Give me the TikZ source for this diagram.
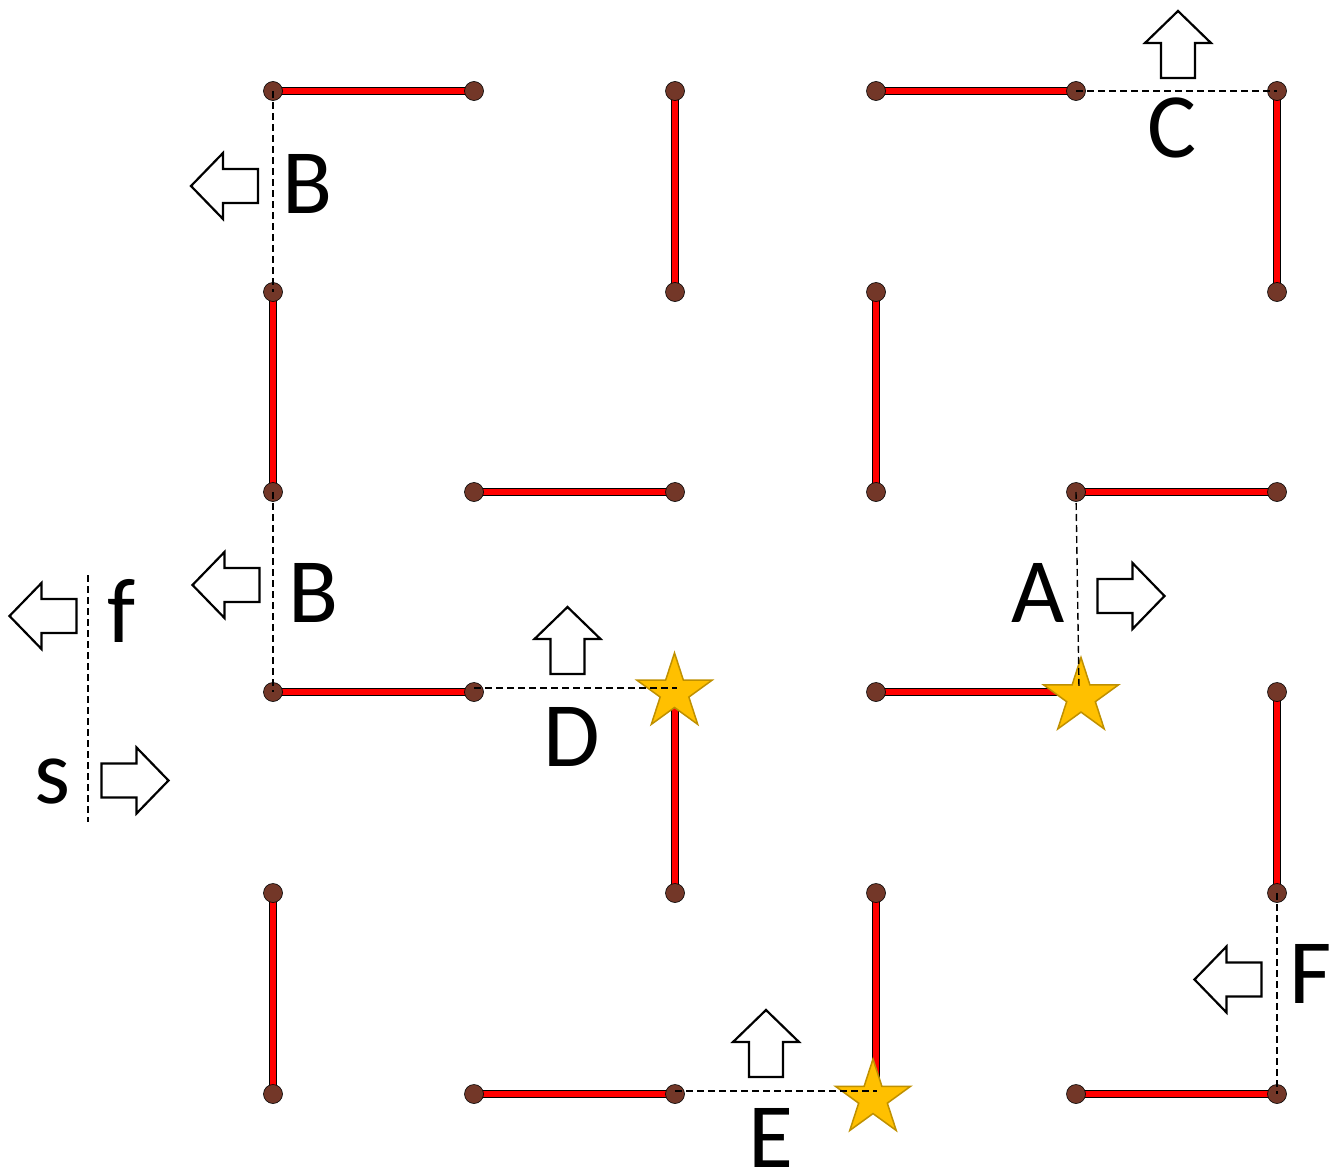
\documentclass[tikz,border=0pt]{standalone}
\usepackage{fontspec}
\setmainfont{Carlito}
\usetikzlibrary{shapes.geometric}
\definecolor{dotbrown}{HTML}{733728}
\definecolor{staryel}{HTML}{FFC000}
\definecolor{starborder}{HTML}{BF9000}
\begin{document}
\begin{tikzpicture}[x=1pt,y=1pt,
  wall/.style={line width=1.2pt, double=red, double distance=5.5pt},
  dotnode/.style={circle, fill=dotbrown, draw=black, line width=0.6pt, minimum size=19pt, inner sep=0pt},
  gate/.style={dash pattern=on 7pt off 4pt, line width=1.4pt, black},
  starnode/.style={star, star points=5, star point ratio=2.618, minimum size=79pt, inner sep=0pt, fill=staryel, draw=starborder, line width=1.5pt},
  lbl/.style={font=\fontsize{92}{92}\selectfont, inner sep=0pt, anchor=base},
  pics/barrow/.style={code={\draw[line width=2.2pt, fill=white, line join=miter] (-33.5,-17) -- (1.5,-17) -- (1.5,-33) -- (33.5,0) -- (1.5,33) -- (1.5,17) -- (-33.5,17) -- cycle;}}
]
\useasboundingbox (0,0) rectangle (1334,-1172);
\foreach \i/\x in {0/273,1/474,2/675,3/876,4/1076,5/1277}
  \foreach \j/\y in {0/91,1/292,2/492,3/692,4/893,5/1094}
    \coordinate (g\i\j) at (\x,-\y);
% stars (positions)
\coordinate (dD) at (677,-688);
\coordinate (dA) at (1079,-688);
\coordinate (dE) at (877,-1091);
% walls
\draw[wall] (g00) -- (g10);
\draw[wall] (g20) -- (g21);
\draw[wall] (g30) -- (g40);
\draw[wall] (g50) -- (g51);
\draw[wall] (g01) -- (g02);
\draw[wall] (g31) -- (g32);
\draw[wall] (g12) -- (g22);
\draw[wall] (g42) -- (g52);
\draw[wall] (g03) -- (g13);
\draw[wall] (g23) -- (g24);
\draw[wall] (g33) -- (g43);
\draw[wall] (g53) -- (g54);
\draw[wall] (g04) -- (g05);
\draw[wall] (g34) -- (g35);
\draw[wall] (g15) -- (g25);
\draw[wall] (g45) -- (g55);
% dots
\foreach \n in {g00,g10,g20,g21,g30,g40,g50,g51,g01,g02,g31,g32,g12,g22,g42,g52,g03,g13,g24,g33,g53,g54,g04,g05,g34,g15,g25,g45,g55}
  \node[dotnode] (d\n) at (\n) {};
% stars
\node[starnode] (sD) at (674.5,-692.4) {};
\node[starnode] (sA) at (1081,-697) {};
\node[starnode] (sE) at (873,-1098.5) {};
% gates
\draw[gate] (g00) -- (g01);
\draw[gate] (g02) -- (g03);
\draw[gate] (g40) -- (g50);
\draw[gate] (g13 |- dD) -- (dD);
\draw[gate] (g42) -- (dA);
\draw[gate] (g25 |- dE) -- (dE);
\draw[gate] (g54) -- (g55);
\coordinate (fsTop) at (88,-575);
\coordinate (fsBot) at (88,-822);
\draw[gate] (fsTop) -- (fsBot);
% labels
\node[lbl] (lB1) at (308,-213) {B};
\node[lbl] (lB2) at (314,-622) {B};
\node[lbl] (lC) at (1172,-157) {C};
\node[lbl] (lD) at (572,-766) {D};
\node[lbl] (lA) at (1038,-622) {A};
\node[lbl] (lE) at (771,-1167) {E};
\node[lbl] (lF) at (1311,-1003) {F};
\node[lbl] (lf) at (122,-642) {f};
\node[lbl] (ls) at (52,-803) {s};
% arrows
\pic[rotate=180] at (224.5,-186) {barrow};
\pic[rotate=180] at (226,-585) {barrow};
\pic[rotate=90] at (1178,-44.5) {barrow};
\pic[rotate=90] at (567.5,-640.5) {barrow};
\pic[rotate=90] at (766,-1043.5) {barrow};
\pic at (1131,-596) {barrow};
\pic[rotate=180] at (1228,-979.5) {barrow};
\pic[rotate=180] at (43,-616) {barrow};
\pic at (135,-780.5) {barrow};
\end{tikzpicture}
\end{document}
